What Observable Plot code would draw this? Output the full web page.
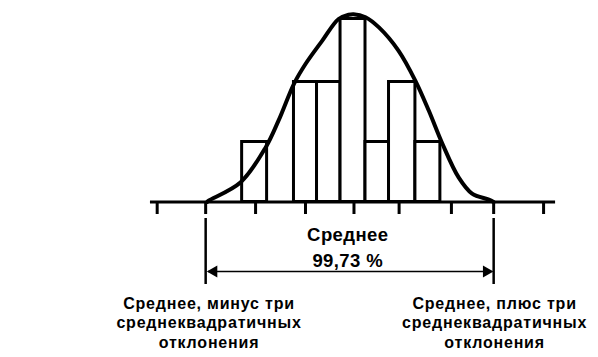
<!DOCTYPE html>
<html>
<head>
<meta charset="utf-8">
<script src="https://cdn.jsdelivr.net/npm/d3@7"></script>
<script src="https://cdn.jsdelivr.net/npm/@observablehq/plot@0.6"></script>
<style>
  html, body { margin: 0; padding: 0; background: #fff; }
  #chart svg { display: block; }
</style>
</head>
<body>
<div id="chart"></div>
<script>
// x values in standard-deviation units (0 = mean), heights in relative frequency
const binStart = [-2.32, -1.80, -1.24, -0.76, -0.27, 0.25, 0.74, 1.29];
const binEnd   = [-1.80, -1.24, -0.76, -0.27, 0.25, 0.74, 1.29, 1.81];
const binHeight = [1, 0, 2, 2, 3.05, 1, 2, 1];

const curveX = [-3.05, -3.01, -2.35, -1.83, -1.56, -1.24, -1.0, -0.65, -0.31, -0.10, 0, 0.25, 0.53, 0.94, 1.29, 1.57, 1.85, 2.19, 2.47, 2.82, 2.92];
const curveY = [0, 0.025, 0.33, 0.91, 1.36, 1.97, 2.30, 2.69, 3.05, 3.12, 3.13, 3.08, 2.91, 2.52, 2.02, 1.52, 0.975, 0.41, 0.14, 0.04, 0];

const tickValues = [-4.09, -3.08, -2.04, -1.0, 0.01, 0.95, 2.04, 2.92, 3.96];
const axisStart = -4.23, axisEnd = 4.21;
const minus3 = -3.08, plus3 = 2.92;

const centerLabel = ["Среднее", "99,73 %"];
const leftLabel = ["Среднее, минус три", "среднеквадратичных", "отклонения"];
const rightLabel = ["Среднее, плюс три", "среднеквадратичных", "отклонения"];

const bins = binStart.map((s, i) => ({x1: s, x2: binEnd[i], h: binHeight[i]})).filter(d => d.h > 0);
const curve = curveX.map((x, i) => ({x, y: curveY[i]}));

const W = 598, H = 357;
const pxPerSigma = 48, meanPx = 353;
const pxPerUnit = 60, basePx = 201.5;
const xDom = [-4.5, 4.5];
const mL = meanPx + xDom[0] * pxPerSigma;
const mR = W - (meanPx + xDom[1] * pxPerSigma);
const mB = H - basePx;
const yTop = basePx / pxPerUnit;
const py = px => (basePx - px) / pxPerUnit; // pixel row -> y value

const fam = "'Liberation Sans', Arial, sans-serif";
const fontSmall = {fontFamily: fam, fontWeight: "bold", fontSize: 16, className: "lbl-small"};
const fontBig = {fontFamily: fam, fontWeight: "bold", fontSize: 18.5, className: "lbl-big"};

const chart = Plot.plot({
  width: W,
  height: H,
  marginLeft: mL,
  marginRight: mR,
  marginTop: 0,
  marginBottom: mB,
  x: {domain: xDom},
  y: {domain: [0, yTop], axis: null},
  style: {background: "#fff", color: "#000", fontFamily: fam},
  marks: [
    Plot.rect(bins, {x1: "x1", x2: "x2", y1: 0, y2: "h", fill: "#fff", stroke: "#000", strokeWidth: 3, inset: 0}),
    Plot.ruleY([0], {x1: axisStart, x2: axisEnd, stroke: "#000", strokeWidth: 3}),
    Plot.axisX({ticks: tickValues, tickSize: 12.5, tickFormat: () => "", strokeWidth: 3, stroke: "#000"}),
    Plot.line(curve, {x: "x", y: "y", curve: "catmull-rom", stroke: "#000", strokeWidth: 4, strokeLinejoin: "round", strokeLinecap: "round"}),
    Plot.ruleX([minus3, plus3], {y1: py(218), y2: py(284), stroke: "#000", strokeWidth: 2.5}),
    Plot.ruleY([py(271)], {x1: minus3 + 0.06, x2: plus3 - 0.04, stroke: "#000", strokeWidth: 1.5}),
    Plot.dot([{x: minus3 + 0.17, r: -90}, {x: plus3 - 0.15, r: 90}], {x: "x", y: py(271), symbol: "triangle", rotate: "r", r: 4.5, fill: "#000", stroke: null}),
    Plot.text(centerLabel, {x: -0.12, y: (d, i) => py([240, 266][i]), text: d => d, textAnchor: "middle", lineAnchor: "bottom", fill: "#000", ...fontBig}),
    Plot.text(leftLabel, {x: minus3 + 0.07, y: (d, i) => py([308, 327, 347][i]), text: d => d, textAnchor: "middle", lineAnchor: "bottom", fill: "#000", ...fontSmall}),
    Plot.text(rightLabel, {x: plus3 + 0.02, y: (d, i) => py([308, 327, 347][i]), text: d => d, textAnchor: "middle", lineAnchor: "bottom", fill: "#000", ...fontSmall})
  ]
});
d3.select(chart).selectAll(".lbl-small text").style("letter-spacing", "0.8px");
d3.select(chart).selectAll(".lbl-big text").style("letter-spacing", "0.4px");
document.getElementById("chart").appendChild(chart);
</script>
</body>
</html>
